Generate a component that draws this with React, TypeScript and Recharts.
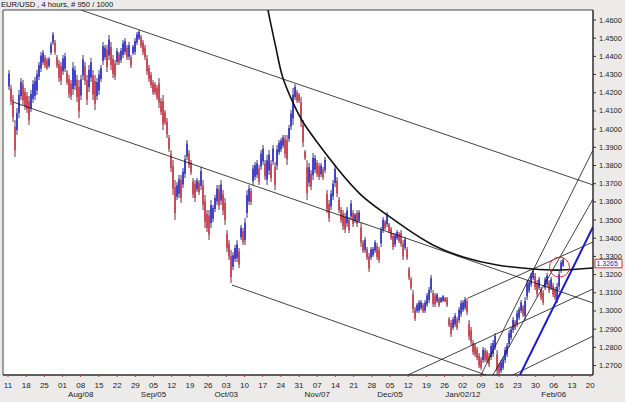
import { ComposedChart, Bar, Line, XAxis, YAxis, CartesianGrid, ReferenceLine, ReferenceDot, ReferenceArea } from 'recharts';

const TITLE = 'EUR/USD , 4 hours, # 950 / 1000';

// x axis is in days counted from Mon 11 Jul 2011
const X_MIN = -1.92;
const X_MAX = 225.1;
const Y_MIN = 1.2648;
const Y_MAX = 1.4655;

const WEEK_DAYS = [0, 7, 14, 21, 28, 35, 42, 49, 56, 63, 70, 77, 84, 91, 98, 105, 112, 119, 126, 133, 140, 147, 154, 161, 168, 175, 182, 189, 196, 203, 210, 217, 224];
const WEEK_LABELS = ['11', '18', '25', '01', '08', '15', '22', '29', '05', '12', '19', '26', '03', '10', '17', '24', '31', '07', '14', '21', '28', '05', '12', '19', '26', '02', '09', '16', '23', '30', '06', '13', '20'];
const MONTH_LABELS = ['', '', '', '', 'Aug/08', '', '', '', 'Sep/05', '', '', '', 'Oct/03', '', '', '', '', 'Nov/07', '', '', '', 'Dec/05', '', '', '', 'Jan/02/12', '', '', '', '', 'Feb/06', '', ''];

const PRICE_TICKS = [1.27, 1.28, 1.29, 1.30, 1.31, 1.32, 1.33, 1.34, 1.35, 1.36, 1.37, 1.38, 1.39, 1.40, 1.41, 1.42, 1.43, 1.44, 1.45, 1.46];
const LAST_PRICE = 1.3265;

// price samples (every ~0.77 day)
const FIRST_DAY = 0.385;
const STEP_DAY = 0.7697;

const HIGHS = [
  1.4325, 1.4243, 1.4188, 1.4050, 1.4116, 1.4215, 1.4281, 1.4270, 1.4226, 1.4204,
  1.4182, 1.4215, 1.4270, 1.4287, 1.4325, 1.4369, 1.4424, 1.4435, 1.4408, 1.4391,
  1.4397, 1.4479, 1.4534, 1.4490, 1.4408, 1.4380, 1.4369, 1.4408, 1.4419, 1.4325,
  1.4298, 1.4270, 1.4369, 1.4347, 1.4298, 1.4270, 1.4298, 1.4408, 1.4369, 1.4298,
  1.4353, 1.4391, 1.4325, 1.4298, 1.4281, 1.4325, 1.4353, 1.4479, 1.4463, 1.4463,
  1.4518, 1.4479, 1.4408, 1.4380, 1.4446, 1.4424, 1.4446, 1.4490, 1.4501, 1.4463,
  1.4479, 1.4408, 1.4463, 1.4501, 1.4534, 1.4545, 1.4518, 1.4490, 1.4463, 1.4408,
  1.4353, 1.4314, 1.4270, 1.4259, 1.4243, 1.4281, 1.4171, 1.4188, 1.4105, 1.4061,
  1.3968, 1.3885, 1.3830, 1.3720, 1.3709, 1.3748, 1.3748, 1.3786, 1.3858, 1.3940,
  1.3885, 1.3830, 1.3731, 1.3720, 1.3731, 1.3720, 1.3792, 1.3720, 1.3638, 1.3555,
  1.3555, 1.3610, 1.3583, 1.3638, 1.3693, 1.3693, 1.3720, 1.3665, 1.3621, 1.3445,
  1.3390, 1.3335, 1.3324, 1.3363, 1.3390, 1.3346, 1.3473, 1.3456, 1.3511, 1.3665,
  1.3693, 1.3676, 1.3803, 1.3819, 1.3830, 1.3803, 1.3885, 1.3913, 1.3830, 1.3858,
  1.3885, 1.3830, 1.3913, 1.3819, 1.3913, 1.3940, 1.3951, 1.3968, 1.3968, 1.3968,
  1.4023, 1.4105, 1.4226, 1.4248, 1.4215, 1.4199, 1.4177, 1.4050, 1.3885, 1.3830,
  1.3814, 1.3775, 1.3869, 1.3858, 1.3830, 1.3814, 1.3814, 1.3792, 1.3847, 1.3665,
  1.3610, 1.3665, 1.3720, 1.3803, 1.3737, 1.3627, 1.3572, 1.3555, 1.3539, 1.3572,
  1.3517, 1.3610, 1.3555, 1.3539, 1.3555, 1.3555, 1.3484, 1.3390, 1.3407, 1.3352,
  1.3319, 1.3352, 1.3352, 1.3390, 1.3374, 1.3352, 1.3462, 1.3517, 1.3500, 1.3544,
  1.3484, 1.3462, 1.3429, 1.3429, 1.3445, 1.3434, 1.3445, 1.3390, 1.3407, 1.3352,
  1.3242, 1.3187, 1.3115, 1.3022, 1.3044, 1.3060, 1.3060, 1.3044, 1.3060, 1.3099,
  1.3132, 1.3198, 1.3115, 1.3099, 1.3099, 1.3077, 1.3077, 1.3088, 1.3077, 1.3077,
  1.2967, 1.2950, 1.2967, 1.2989, 1.2967, 1.3022, 1.3060, 1.3060, 1.3077, 1.3071,
  1.2950, 1.2912, 1.2840, 1.2824, 1.2802, 1.2769, 1.2747, 1.2802, 1.2796, 1.2785,
  1.2769, 1.2824, 1.2840, 1.2879, 1.2785, 1.2714, 1.2730, 1.2747, 1.2802, 1.2824,
  1.2895, 1.2912, 1.2967, 1.2950, 1.3005, 1.3022, 1.3060, 1.3033, 1.3077, 1.3170,
  1.3170, 1.3209, 1.3231, 1.3209, 1.3170, 1.3187, 1.3132, 1.3115, 1.3187, 1.3209,
  1.3170, 1.3187, 1.3154, 1.3132, 1.3154, 1.3220, 1.3280, 1.3291,
];

const LOWS = [
  1.4215, 1.4133, 1.4039, 1.3847, 1.3968, 1.4061, 1.4160, 1.4133, 1.4105, 1.4089,
  1.4023, 1.4094, 1.4144, 1.4160, 1.4188, 1.4270, 1.4314, 1.4353, 1.4336, 1.4325,
  1.4336, 1.4408, 1.4463, 1.4408, 1.4336, 1.4259, 1.4243, 1.4298, 1.4314, 1.4243,
  1.4171, 1.4160, 1.4188, 1.4215, 1.4149, 1.4061, 1.4160, 1.4270, 1.4243, 1.4133,
  1.4204, 1.4259, 1.4160, 1.4105, 1.4160, 1.4188, 1.4259, 1.4353, 1.4380, 1.4314,
  1.4380, 1.4325, 1.4281, 1.4270, 1.4353, 1.4353, 1.4364, 1.4391, 1.4408, 1.4380,
  1.4380, 1.4336, 1.4408, 1.4408, 1.4463, 1.4490, 1.4446, 1.4408, 1.4380, 1.4298,
  1.4259, 1.4226, 1.4188, 1.4188, 1.4160, 1.4116, 1.4078, 1.3995, 1.4023, 1.3951,
  1.3874, 1.3764, 1.3638, 1.3500, 1.3610, 1.3621, 1.3594, 1.3676, 1.3731, 1.3830,
  1.3786, 1.3748, 1.3621, 1.3599, 1.3654, 1.3638, 1.3665, 1.3555, 1.3456, 1.3434,
  1.3390, 1.3456, 1.3489, 1.3544, 1.3583, 1.3555, 1.3583, 1.3528, 1.3473, 1.3324,
  1.3280, 1.3154, 1.3225, 1.3269, 1.3269, 1.3236, 1.3390, 1.3363, 1.3363, 1.3511,
  1.3583, 1.3583, 1.3693, 1.3720, 1.3731, 1.3693, 1.3775, 1.3803, 1.3720, 1.3693,
  1.3748, 1.3709, 1.3803, 1.3665, 1.3775, 1.3858, 1.3874, 1.3896, 1.3841, 1.3803,
  1.3929, 1.3995, 1.4023, 1.4160, 1.4144, 1.4144, 1.4012, 1.3902, 1.3830, 1.3610,
  1.3682, 1.3665, 1.3720, 1.3759, 1.3737, 1.3720, 1.3737, 1.3720, 1.3759, 1.3539,
  1.3489, 1.3555, 1.3610, 1.3682, 1.3627, 1.3539, 1.3484, 1.3445, 1.3429, 1.3462,
  1.3429, 1.3500, 1.3462, 1.3484, 1.3462, 1.3484, 1.3352, 1.3319, 1.3319, 1.3280,
  1.3214, 1.3280, 1.3297, 1.3319, 1.3280, 1.3264, 1.3352, 1.3429, 1.3445, 1.3462,
  1.3429, 1.3390, 1.3335, 1.3352, 1.3390, 1.3374, 1.3352, 1.3280, 1.3335, 1.3280,
  1.3170, 1.3115, 1.2989, 1.2945, 1.2989, 1.2989, 1.3005, 1.2989, 1.2989, 1.3022,
  1.3044, 1.3099, 1.3022, 1.3022, 1.3044, 1.3022, 1.3044, 1.3049, 1.3049, 1.3022,
  1.2912, 1.2857, 1.2895, 1.2912, 1.2895, 1.2934, 1.2967, 1.2994, 1.3005, 1.2978,
  1.2840, 1.2813, 1.2758, 1.2747, 1.2730, 1.2686, 1.2675, 1.2714, 1.2719, 1.2714,
  1.2692, 1.2730, 1.2747, 1.2785, 1.2648, 1.2648, 1.2659, 1.2675, 1.2714, 1.2747,
  1.2802, 1.2840, 1.2879, 1.2895, 1.2912, 1.2950, 1.2989, 1.2967, 1.2950, 1.3060,
  1.3099, 1.3132, 1.3170, 1.3115, 1.3077, 1.3115, 1.3060, 1.3033, 1.3115, 1.3132,
  1.3099, 1.3115, 1.3077, 1.3060, 1.3044, 1.3115, 1.3209, 1.3242,
];

// hand-drawn trend lines: [day, price] -> [day, price]
const CHANNEL_LINES = [
  [[28.09, 1.4655], [225.1, 1.3693]],
  [[1.92, 1.4149], [225.1, 1.3044]],
  [[86.2, 1.3143], [183.9, 1.2648]],
  [[153.9, 1.2648], [225.1, 1.3121]],
  [[177.0, 1.3071], [225.1, 1.3379]],
  [[182.0, 1.2648], [225.1, 1.3885]],
  [[186.6, 1.2648], [225.1, 1.3616]],
  [[194.3, 1.2648], [225.1, 1.2862]],
];
const BLUE_LINE = [[197.0, 1.2648], [225.1, 1.3462]];

const ARC_DAYS = [100.05, 101.2, 103.5, 105.8, 109.7, 113.5, 118.9, 126.6, 135.5, 144.3, 153.5, 163.5, 175.1, 188.2, 202.0, 212.4, 225.1];
const ARC_PRICES = [1.4655, 1.4573, 1.4419, 1.4281, 1.4144, 1.4039, 1.3929, 1.3786, 1.3643, 1.3544, 1.3451, 1.3363, 1.3297, 1.3253, 1.3231, 1.3225, 1.3236];

const MARK = { day: 212.2, price: 1.3241 };

const FONT = 'Liberation Sans, Arial, sans-serif';

let prevMid = (HIGHS[0] + LOWS[0]) / 2;
const bars = HIGHS.map((h, i) => {
  const mid = (h + LOWS[i]) / 2;
  const up = mid >= prevMid;
  prevMid = mid;
  return { day: FIRST_DAY + i * STEP_DAY, range: [LOWS[i], h], up };
});
const arc = ARC_DAYS.map((d, i) => ({ day: d, price: ARC_PRICES[i] }));

// wick over the whole range, coloured body in the middle of it
const PriceBar = (props: any) => {
  const { x, y, width, height, payload } = props;
  if (x == null || y == null) return null;
  const cx = x + (width || 0) / 2;
  const h = Math.max(Math.abs(height), 1);
  return (
    <g>
      <rect x={cx - 0.45} y={y} width={0.9} height={h} fill={payload.up ? '#24246a' : '#5a1a30'} />
      <rect x={cx - 0.85} y={y + h * 0.18} width={1.7} height={h * 0.64} fill={payload.up ? '#3434d0' : '#d43c4a'} />
    </g>
  );
};

const XTick = ({ x, y, payload }: any) => {
  const i = WEEK_DAYS.indexOf(payload.value);
  return (
    <g>
      <text x={x} y={y + 9} textAnchor="middle" fontSize={8} fontFamily={FONT} fill="#222">{WEEK_LABELS[i]}</text>
      {MONTH_LABELS[i] && (
        <text x={x} y={y + 18} textAnchor="middle" fontSize={8} fontFamily={FONT} fill="#222">{MONTH_LABELS[i]}</text>
      )}
    </g>
  );
};

const YTick = ({ x, y, payload }: any) => (
  <text x={x + 1} y={y + 2.5} textAnchor="start" fontSize={7.5} fontFamily={FONT} fill="#222">{payload.value.toFixed(4)}</text>
);

const lastPriceLabel = (props: any) => {
  const { viewBox } = props;
  const x = viewBox.x + viewBox.width + 2;
  const y = viewBox.y + 0.5;
  return (
    <g>
      <rect x={x} y={y - 4} width={27} height={8.5} fill="#fff" stroke="#e03030" strokeWidth={1} />
      <text x={x + 1.5} y={y + 3} fontSize={7} fontFamily={FONT} fill="#1a1ad0">{LAST_PRICE.toFixed(4)}</text>
    </g>
  );
};

export default function App() {
  return (
    <div style={{ position: 'absolute', left: 0, top: 0, width: 625, height: 402, background: '#ecebea' }}>
      <div style={{ position: 'absolute', left: 1, top: 0, fontFamily: FONT, fontSize: 7.6, color: '#111', lineHeight: '10px' }}>{TITLE}</div>
      <ComposedChart width={625} height={402} data={bars} margin={{ top: 10, right: 0, bottom: 0, left: 3 }}>
        <CartesianGrid fill="#ffffff" horizontal={false} vertical={false} />
        <XAxis
          type="number"
          dataKey="day"
          domain={[X_MIN, X_MAX]}
          ticks={WEEK_DAYS}
          allowDataOverflow
          height={27}
          axisLine={{ stroke: '#222' }}
          tickLine={{ stroke: '#e03030' }}
          tickSize={2}
          tick={<XTick />}
          interval={0}
        />
        <YAxis
          orientation="right"
          type="number"
          domain={[Y_MIN, Y_MAX]}
          ticks={PRICE_TICKS}
          allowDataOverflow
          width={32}
          axisLine={{ stroke: '#222' }}
          tickLine={{ stroke: '#333' }}
          tickSize={3}
          tick={<YTick />}
          interval={0}
        />
        <Bar dataKey="range" barSize={2} shape={<PriceBar />} isAnimationActive={false} />
        {CHANNEL_LINES.map((seg, i) => (
          <ReferenceLine
            key={`ch-${i}`}
            segment={[{ x: seg[0][0], y: seg[0][1] }, { x: seg[1][0], y: seg[1][1] }]}
            stroke="#111"
            strokeWidth={0.8}
            ifOverflow="hidden"
          />
        ))}
        <ReferenceLine
          segment={[{ x: BLUE_LINE[0][0], y: BLUE_LINE[0][1] }, { x: BLUE_LINE[1][0], y: BLUE_LINE[1][1] }]}
          stroke="#1c1cc8"
          strokeWidth={2}
          ifOverflow="hidden"
        />
        <Line data={arc} dataKey="price" type="natural" stroke="#111" strokeWidth={1.6} dot={false} isAnimationActive={false} />
        <ReferenceDot x={MARK.day} y={MARK.price} r={10} fill="none" stroke="#e03030" strokeWidth={1} ifOverflow="visible" />
        <ReferenceLine y={LAST_PRICE} stroke="none" strokeOpacity={0} label={lastPriceLabel} />
        <ReferenceArea x1={X_MIN} x2={X_MAX} y1={Y_MIN} y2={Y_MAX} fill="none" stroke="#444" strokeWidth={1} ifOverflow="visible" />
      </ComposedChart>
    </div>
  );
}
